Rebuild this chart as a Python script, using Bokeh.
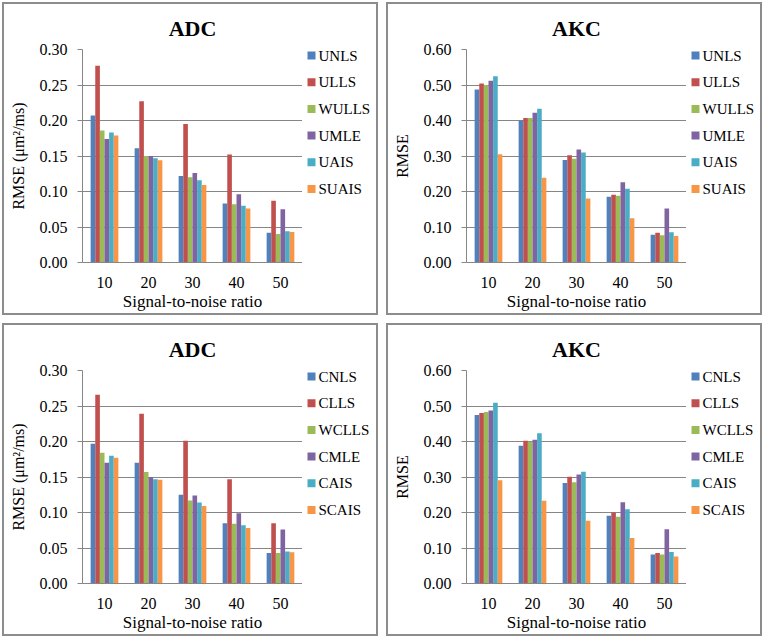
from bokeh.plotting import figure
from bokeh.models import (ColumnDataSource, FactorRange, FixedTicker,
                          NumeralTickFormatter, Range1d)
from bokeh.core.properties import value
from bokeh.layouts import row, column
from bokeh.transform import dodge
from bokeh.embed import file_html
from bokeh.resources import INLINE

snr = ["10", "20", "30", "40", "50"]

names_u = ["UNLS", "ULLS", "WULLS", "UMLE", "UAIS", "SUAIS"]
names_c = ["CNLS", "CLLS", "WCLLS", "CMLE", "CAIS", "SCAIS"]
colors = ["#4F81BD", "#C0504D", "#9BBB59", "#8064A2", "#4BACC6", "#F79646"]

# ADC, unconstrained
adc_unls = [0.207, 0.161, 0.122, 0.083, 0.042]
adc_ulls = [0.277, 0.227, 0.195, 0.152, 0.087]
adc_wulls = [0.186, 0.150, 0.120, 0.082, 0.040]
adc_umle = [0.174, 0.150, 0.126, 0.096, 0.075]
adc_uais = [0.183, 0.147, 0.116, 0.080, 0.044]
adc_suais = [0.179, 0.144, 0.109, 0.076, 0.043]

# AKC, unconstrained
akc_unls = [0.487, 0.400, 0.289, 0.185, 0.078]
akc_ulls = [0.504, 0.407, 0.302, 0.191, 0.084]
akc_wulls = [0.500, 0.407, 0.292, 0.188, 0.077]
akc_umle = [0.512, 0.422, 0.318, 0.226, 0.152]
akc_uais = [0.525, 0.433, 0.310, 0.208, 0.085]
akc_suais = [0.305, 0.239, 0.180, 0.125, 0.075]

# ADC, constrained
adc_cnls = [0.197, 0.170, 0.125, 0.085, 0.043]
adc_clls = [0.266, 0.239, 0.201, 0.147, 0.085]
adc_wclls = [0.184, 0.157, 0.117, 0.084, 0.043]
adc_cmle = [0.170, 0.150, 0.124, 0.099, 0.076]
adc_cais = [0.180, 0.147, 0.114, 0.082, 0.045]
adc_scais = [0.177, 0.146, 0.109, 0.078, 0.044]

# AKC, constrained
akc_cnls = [0.475, 0.388, 0.283, 0.191, 0.082]
akc_clls = [0.480, 0.402, 0.301, 0.200, 0.086]
akc_wclls = [0.483, 0.399, 0.285, 0.188, 0.082]
akc_cmle = [0.487, 0.405, 0.307, 0.229, 0.153]
akc_cais = [0.509, 0.423, 0.315, 0.209, 0.089]
akc_scais = [0.291, 0.233, 0.177, 0.128, 0.076]

adc_ticks = [0.0, 0.05, 0.10, 0.15, 0.20, 0.25, 0.30]
akc_ticks = [0.0, 0.10, 0.20, 0.30, 0.40, 0.50, 0.60]

FONT = "Liberation Serif"
GRAY = "#868686"
H = 309
LW = 74                     # legend strip width
MW = 298                    # main plot width
BL, BT, BB = 78, 45, 48
FH = 213                    # plot frame height (legend strip shares it)
ITEM_FIRST = 6
ITEM_STEP = 26.7


def make_legend(names):
    lg = figure(width=LW, height=H, x_range=Range1d(0, LW), y_range=Range1d(FH, 0),
                output_backend="svg", toolbar_location=None,
                x_axis_type=None, y_axis_type=None, outline_line_color=None,
                min_border_left=0, min_border_right=0, min_border_top=0,
                min_border_bottom=0)
    lg.grid.visible = False
    ys = [ITEM_FIRST + i * ITEM_STEP for i in range(len(names))]
    src = ColumnDataSource(dict(name=names, color=colors, y=ys))
    lg.rect(x=9, y="y", width=8, height=8, source=src, fill_color="color",
            line_color=None)
    lg.text(x=16, y="y", text="name", source=src, text_baseline="middle",
            text_font=value(FONT), text_font_size="15px", text_color="black")
    return lg


def make_panel(title, ylabel, ticks, names, series):
    data = dict(snr=snr)
    for i, s in enumerate(series):
        data["s%d" % i] = s
    src = ColumnDataSource(data)
    p = figure(x_range=FactorRange(*snr), y_range=Range1d(ticks[0], ticks[-1]),
               width=MW, height=H, output_backend="svg", toolbar_location=None,
               min_border_left=BL, min_border_right=0, min_border_top=BT,
               min_border_bottom=BB, outline_line_color=None)
    bw = 0.105
    for i, c in enumerate(colors):
        p.vbar(x=dodge("snr", (i - 2.5) * bw, range=p.x_range), top="s%d" % i,
               width=bw, source=src, fill_color=c, line_color=None)

    p.title.text = title
    p.title.align = "center"
    p.title.text_font = FONT
    p.title.text_font_size = "22px"
    p.title.text_font_style = "bold"
    p.title.text_color = "black"
    p.title.standoff = 17

    p.xgrid.grid_line_color = None
    p.ygrid.grid_line_color = GRAY
    p.ygrid.grid_line_width = 1

    p.yaxis.ticker = FixedTicker(ticks=ticks)
    p.yaxis.formatter = NumeralTickFormatter(format="0.00")
    p.yaxis.axis_line_color = GRAY
    p.yaxis.major_tick_line_color = GRAY
    p.yaxis.major_tick_out = 5
    p.yaxis.major_tick_in = 0
    p.yaxis.minor_tick_line_color = None
    p.yaxis.major_label_standoff = 10
    p.yaxis.axis_label = ylabel
    p.yaxis.axis_label_standoff = 10

    p.xaxis.axis_line_color = GRAY
    p.xaxis.major_tick_line_color = None
    p.xaxis.minor_tick_line_color = None
    p.xaxis.major_label_standoff = 8
    p.xaxis.axis_label = "Signal-to-noise ratio"
    p.xaxis.axis_label_standoff = 1

    for ax in (p.xaxis, p.yaxis):
        ax.major_label_text_font = FONT
        ax.major_label_text_font_size = "16px"
        ax.major_label_text_color = "black"
        ax.axis_label_text_font = FONT
        ax.axis_label_text_font_size = "17px"
        ax.axis_label_text_font_style = "normal"
        ax.axis_label_text_color = "black"
    p.yaxis.axis_label_text_font_size = "16px"

    return row(p, make_legend(names), spacing=0,
               styles={"outline": "2px solid #8c8c8c"})


p1 = make_panel("ADC", "RMSE (μm²/ms)", adc_ticks, names_u,
                [adc_unls, adc_ulls, adc_wulls, adc_umle, adc_uais, adc_suais])
p2 = make_panel("AKC", "RMSE", akc_ticks, names_u,
                [akc_unls, akc_ulls, akc_wulls, akc_umle, akc_uais, akc_suais])
p3 = make_panel("ADC", "RMSE (μm²/ms)", adc_ticks, names_c,
                [adc_cnls, adc_clls, adc_wclls, adc_cmle, adc_cais, adc_scais])
p4 = make_panel("AKC", "RMSE", akc_ticks, names_c,
                [akc_cnls, akc_clls, akc_wclls, akc_cmle, akc_cais, akc_scais])

layout = column(row(p1, p2, spacing=12), row(p3, p4, spacing=12), spacing=12,
                margin=(4, 0, 0, 4))

open("out.html", "w").write(file_html(layout, INLINE))
